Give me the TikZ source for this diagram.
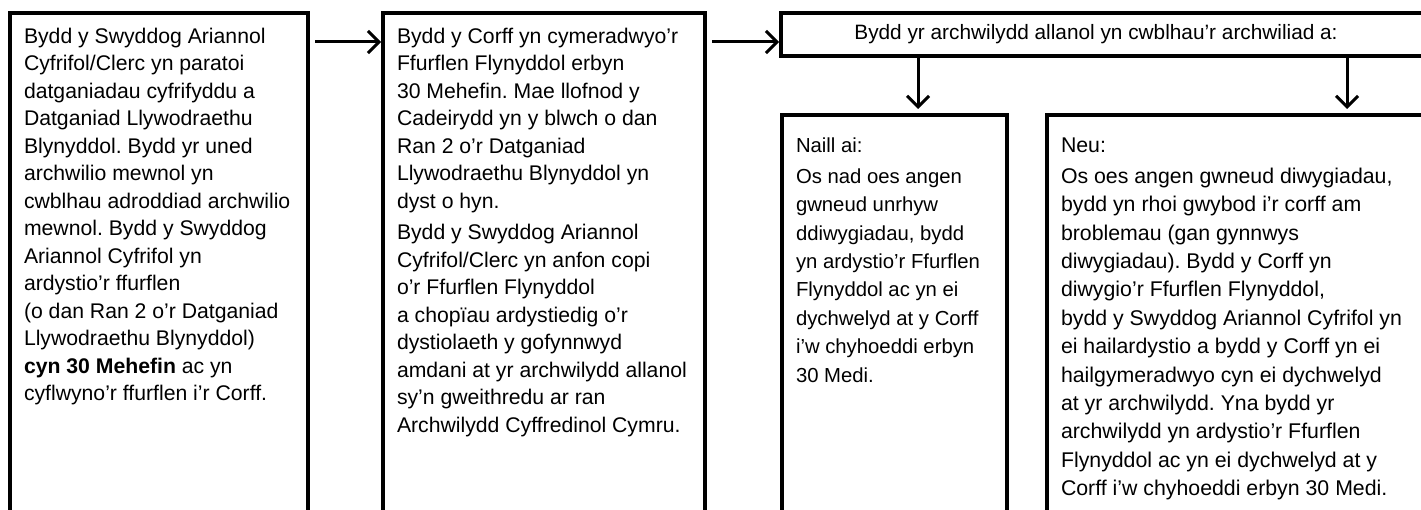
\documentclass[tikz,border=0pt]{standalone}
\usepackage{fontspec}
\setmainfont{Liberation Sans}
\usetikzlibrary{arrows.meta}

\frenchspacing
% #1 height, #2 width, #3 font size, #4 line spacing, #5 text
\newcommand{\cellbox}[5]{\begin{minipage}[t][#1][t]{#2}\fontsize{#3}{#4}\selectfont\raggedright\strut #5\end{minipage}}

\begin{document}
\begin{tikzpicture}[x=1pt,y=-1pt,
        stepbox/.style={draw,line width=3.5pt,anchor=north west,outer sep=0pt,inner xsep=14pt,inner ysep=11pt},
        arr/.style={line width=3pt,-{Straight Barb[length=11pt,width=22pt]}},
        ]
        \useasboundingbox (0,0) rectangle (1421,510);

        \node[stepbox](prep) at (10,13){\cellbox{500pt}{270pt}{21.2}{27.5}{Bydd y Swyddog Ariannol\\
            Cyfrifol/Clerc yn paratoi\\
            datganiadau cyfrifyddu a\\
            Datganiad Llywodraethu\\
            Blynyddol. Bydd yr uned\\
            archwilio mewnol yn\\
            cwblhau adroddiad archwilio\\
            mewnol. Bydd y Swyddog\\
            Ariannol Cyfrifol yn\\
            ardystio’r ffurflen\\
            (o dan Ran 2 o’r Datganiad\\
            Llywodraethu Blynyddol)\\
            \textbf{cyn 30 Mehefin} ac yn\\
            cyflwyno’r ffurflen i’r Corff.}};
        \node[stepbox](approve) at (383,13){\cellbox{500pt}{294pt}{21.2}{27.5}{Bydd y Corff yn cymeradwyo’r\\
            Ffurflen Flynyddol erbyn\\
            30 Mehefin. Mae llofnod y\\
            Cadeirydd yn y blwch o dan\\
            Ran 2 o’r Datganiad\\
            Llywodraethu Blynyddol yn\\
            dyst o hyn.\par\vspace{4pt}
            \strut Bydd y Swyddog Ariannol\\
            Cyfrifol/Clerc yn anfon copi\\
            o’r Ffurflen Flynyddol\\
            a chopïau ardystiedig o’r\\
            dystiolaeth y gofynnwyd\\
            amdani at yr archwilydd allanol\\
            sy’n gweithredu ar ran\\
            Archwilydd Cyffredinol Cymru.}};
        \node[stepbox, minimum width=648pt, minimum height=43pt, inner ysep=0pt,
            font=\fontsize{20.8}{24}\selectfont](audit) at (781,13){\hspace*{-18pt}Bydd yr archwilydd allanol yn cwblhau’r archwiliad a:};
        \node[stepbox, inner ysep=18pt](either) at (782,115){\cellbox{400pt}{197pt}{20.3}{28.4}{Naill ai:\par\vspace{2pt}
            \strut Os nad oes angen\\
            gwneud unrhyw\\
            ddiwygiadau, bydd\\
            yn ardystio’r Ffurflen\\
            Flynyddol ac yn ei\\
            dychwelyd at y Corff\\
            i’w chyhoeddi erbyn\\
            30 Medi.}};
        \node[stepbox, inner ysep=18pt](orelse) at (1047,115){\cellbox{400pt}{380pt}{21.3}{28.4}{Neu:\par\vspace{2pt}
            \strut Os oes angen gwneud diwygiadau,\\
            bydd yn rhoi gwybod i’r corff am\\
            broblemau (gan gynnwys\\
            diwygiadau). Bydd y Corff yn\\
            diwygio’r Ffurflen Flynyddol,\\
            bydd y Swyddog Ariannol Cyfrifol yn\\
            ei hailardystio a bydd y Corff yn ei\\
            hailgymeradwyo cyn ei dychwelyd\\
            at yr archwilydd. Yna bydd yr\\
            archwilydd yn ardystio’r Ffurflen\\
            Flynyddol ac yn ei dychwelyd at y\\
            Corff i’w chyhoeddi erbyn 30 Medi.}};

        \draw[arr, shorten <=7pt, shorten >=2pt] ([yshift=-29pt]prep.north east) -- ([yshift=-29pt]approve.north west);
        \draw[arr, shorten <=7pt, shorten >=2pt] ([yshift=-29pt]approve.north east) -- ([yshift=-29pt]audit.north west);
        \draw[arr, shorten <=2pt, shorten >=6pt] ([xshift=136pt]either.north west |- audit.south) -- ([xshift=136pt]either.north west);
        \draw[arr, shorten <=2pt, shorten >=6pt] ([xshift=300pt]orelse.north west |- audit.south) -- ([xshift=300pt]orelse.north west);
        \end{tikzpicture}
\end{document}
